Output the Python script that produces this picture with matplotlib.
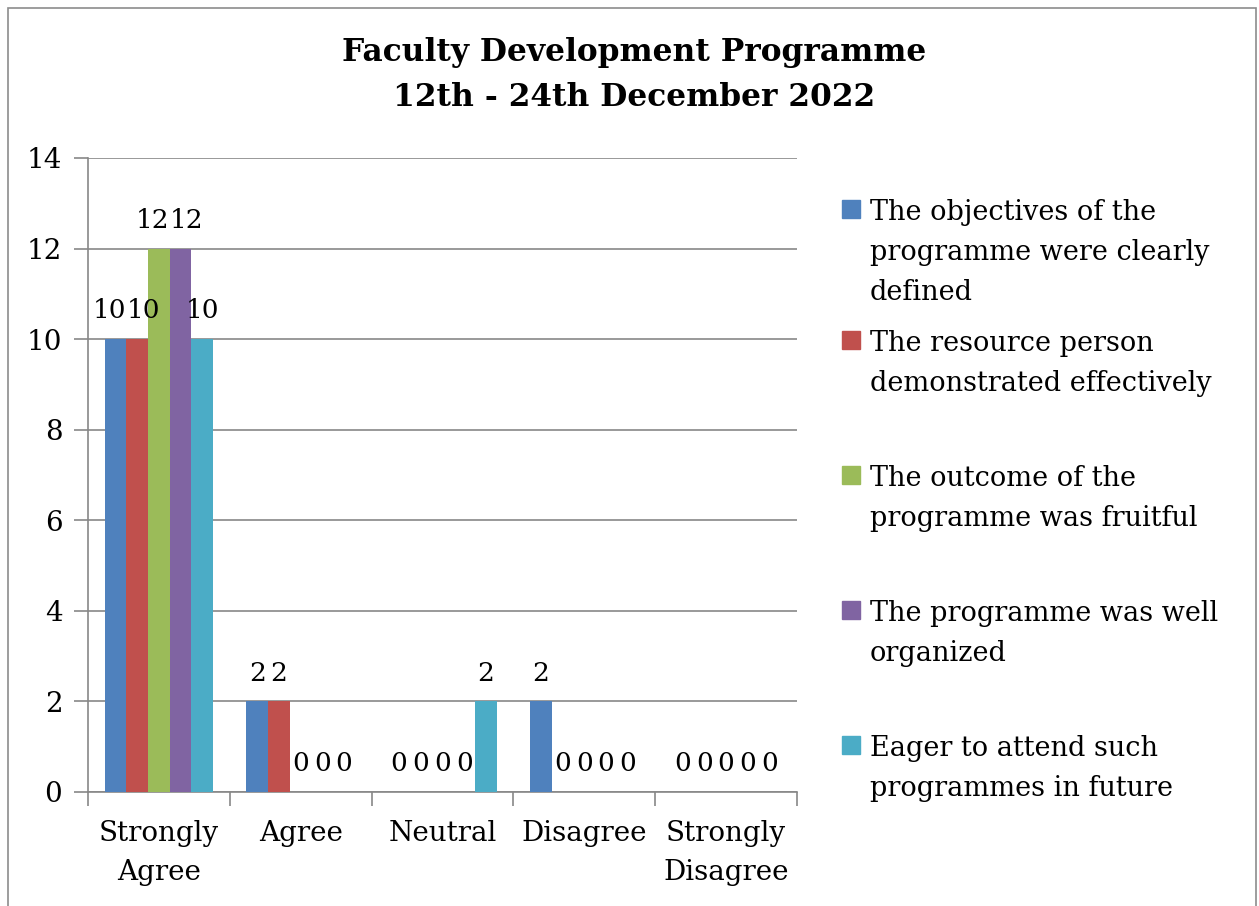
import matplotlib
matplotlib.use("Agg")
import matplotlib.pyplot as plt
import matplotlib.patches as mpatches
import numpy as np

categories = ["Strongly\nAgree", "Agree", "Neutral", "Disagree", "Strongly\nDisagree"]
series_names = [
    "The objectives of the\nprogramme were clearly\ndefined",
    "The resource person\ndemonstrated effectively",
    "The outcome of the\nprogramme was fruitful",
    "The programme was well\norganized",
    "Eager to attend such\nprogrammes in future",
]
objectives = [10, 2, 0, 2, 0]
resource = [10, 2, 0, 0, 0]
outcome = [12, 0, 0, 0, 0]
organized = [12, 0, 0, 0, 0]
eager = [10, 0, 2, 0, 0]
all_series = [objectives, resource, outcome, organized, eager]
colors = ["#4F81BD", "#C0504D", "#9BBB59", "#8064A2", "#4BACC6"]

W, H = 1259, 906
plt.rcParams["font.family"] = ["DejaVu Serif"]
fig = plt.figure(figsize=(W / 100, H / 100), dpi=100)

# chart border
fig.patches.append(mpatches.Rectangle((8 / W, -0.01), (1256 - 8) / W, 1.01 - 8 / H,
                                      transform=fig.transFigure, fill=False,
                                      edgecolor="#8c8c8c", linewidth=1.2))

ax = fig.add_axes([88 / W, (H - 792) / H, (797 - 88) / W, (792 - 158) / H])

grid_col = "#878787"
x = np.arange(len(categories))
bar_w = 0.153
labels = [[] for _ in categories]
for i, (vals, col) in enumerate(zip(all_series, colors)):
    pos = x + (i - 2) * bar_w
    ax.bar(pos, vals, width=bar_w, color=col, zorder=3)
    for k, (px, v) in enumerate(zip(pos, vals)):
        ann = ax.annotate(str(v), (px, v), xytext=(0, 15), textcoords="offset points",
                          ha="center", va="baseline", fontsize=19, zorder=4)
        labels[k].append((v, ann))

ax.set_xlim(-0.5, len(categories) - 0.5)
ax.set_ylim(0, 14)
ax.set_yticks(range(0, 15, 2))
ax.yaxis.grid(True, color=grid_col, linewidth=1.2, zorder=0)

ax.set_xticks(x)
ax.set_xticklabels(categories, fontsize=20, linespacing=1.58)
ax.set_xticks(np.arange(-0.5, len(categories)), minor=True)
ax.tick_params(axis="x", which="major", length=0, pad=20)
ax.tick_params(axis="x", which="minor", length=10, color=grid_col, width=1.2)
ax.tick_params(axis="y", length=10, color=grid_col, width=1.2, labelsize=20, pad=8.5)

for s in ["top", "right"]:
    ax.spines[s].set_visible(False)
for s in ["left", "bottom"]:
    ax.spines[s].set_color(grid_col)
    ax.spines[s].set_linewidth(1.2)

# title
fig.text(634 / W, 1 - 75 / H, "Faculty Development Programme\n12th - 24th December 2022",
         ha="center", va="center", fontsize=22.5, fontweight="bold", linespacing=1.61)

# legend
leg_tops = [203, 334, 469, 604, 739]
for name, col, top in zip(series_names, colors, leg_tops):
    fig.patches.append(mpatches.Rectangle((842 / W, 1 - (top + 15) / H), 18 / W, 18 / H,
                                          transform=fig.transFigure, color=col))
    fig.text(870 / W, 1 - (top - 4) / H, name, ha="left", va="top",
             fontsize=19.5, linespacing=1.62)

# push apart value labels of equal height that collide (sit side by side as in Excel)
fig.canvas.draw()
r = fig.canvas.get_renderer()
for group in labels:
    for j in range(1, len(group)):
        v0, a0 = group[j - 1]
        v1, a1 = group[j]
        if v0 != v1:
            continue
        b0 = a0.get_window_extent(r)
        b1 = a1.get_window_extent(r)
        overlap = b0.x1 - b1.x0 + 1
        if overlap > 0:
            d = overlap / 2 * 72 / fig.dpi
            a0.xyann = (a0.xyann[0] - d, a0.xyann[1])
            a1.xyann = (a1.xyann[0] + d, a1.xyann[1])

fig.savefig("out.png", dpi=100)
